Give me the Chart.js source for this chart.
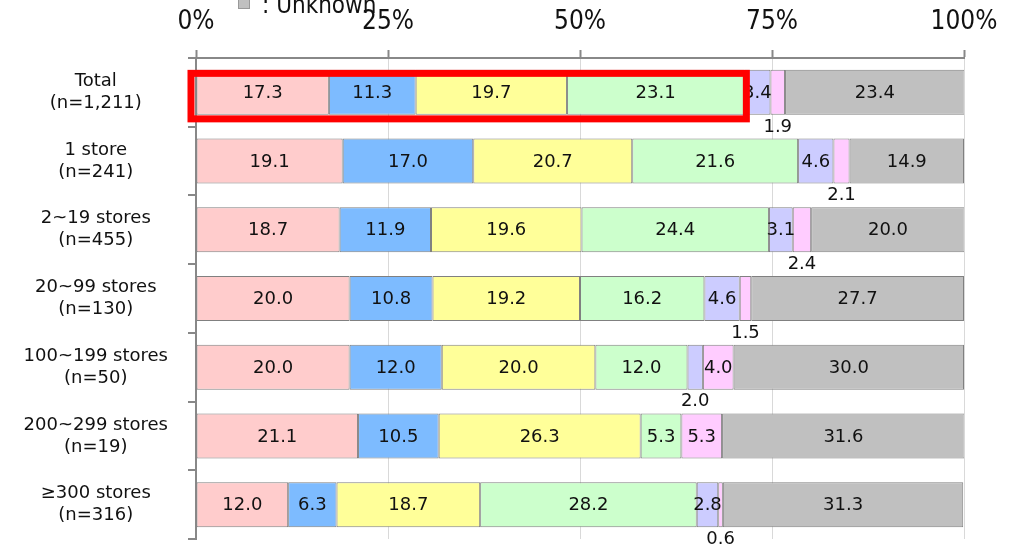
<!DOCTYPE html>
<html>
<head>
<meta charset="utf-8">
<title>Store count breakdown</title>
<script src="https://cdn.jsdelivr.net/npm/chart.js@4/dist/chart.umd.min.js"></script>
<style>
  body { margin: 0; background: #fff; }
  #wrap { position: relative; width: 1022px; height: 544px; overflow: hidden; }
  #chart { position: absolute; left: 0; top: 0; }
  .legend-bit { position: absolute; font: 24px "DejaVu Sans Condensed", "DejaVu Sans", sans-serif; color: #111; line-height: 24px; white-space: nowrap; }
  .legend-sw { position: absolute; left: 238px; top: -3px; width: 10px; height: 10px; background: #c0c0c0; border: 1px solid #999; }
</style>
</head>
<body>
<div id="wrap">
  <canvas id="chart" width="1022" height="544"></canvas>
  <div class="legend-sw"></div>
  <div class="legend-bit" style="left:262px; top:-7px;">: Unknown</div>
</div>
<script>
// rows (top to bottom)
const categories = [
  ["Total", "(n=1,211)"],
  ["1 store", "(n=241)"],
  ["2~19 stores", "(n=455)"],
  ["20~99 stores", "(n=130)"],
  ["100~199 stores", "(n=50)"],
  ["200~299 stores", "(n=19)"],
  ["≥300 stores", "(n=316)"]
];

// series, left to right (only "Unknown" is readable in the cropped legend)
const seriesNames = ["Group 1", "Group 2", "Group 3", "Group 4", "Group 5", "Group 6", "Unknown"];
const group1 = [17.3, 19.1, 18.7, 20.0, 20.0, 21.1, 12.0];
const group2 = [11.3, 17.0, 11.9, 10.8, 12.0, 10.5, 6.3];
const group3 = [19.7, 20.7, 19.6, 19.2, 20.0, 26.3, 18.7];
const group4 = [23.1, 21.6, 24.4, 16.2, 12.0, 5.3, 28.2];
const group5 = [3.4, 4.6, 3.1, 4.6, 2.0, 0, 2.8];
const group6 = [1.9, 2.1, 2.4, 1.5, 4.0, 5.3, 0.6];
const unknown = [23.4, 14.9, 20.0, 27.7, 30.0, 31.6, 31.3];

const xTicks = [0, 25, 50, 75, 100];
const colors = ["#ffcccc", "#7dbbff", "#ffff99", "#ccffcc", "#ccccff", "#ffccff", "#c0c0c0"];

// the red box goes round the first row, first four segments
const highlightRow = 0;
const highlightSeries = 4;

const allSeries = [group1, group2, group3, group4, group5, group6, unknown];

// value labels: inside the segment, or just under the bar when it is too thin
const segmentLabels = {
  id: "segmentLabels",
  afterDatasetsDraw(chart) {
    const ctx = chart.ctx;
    ctx.save();
    ctx.font = '18px "DejaVu Sans", sans-serif';
    ctx.fillStyle = "#111";
    ctx.textAlign = "center";
    ctx.textBaseline = "middle";
    chart.data.datasets.forEach((ds, di) => {
      chart.getDatasetMeta(di).data.forEach((bar, i) => {
        const v = ds.data[i];
        if (!v) return;
        const p = bar.getProps(["x", "y", "base", "height"], true);
        const cx = (p.x + p.base) / 2;
        if (v >= 2.5) ctx.fillText(v.toFixed(1), cx, p.y + 1);
        else ctx.fillText(v.toFixed(1), cx, p.y + p.height / 2 + 12);
      });
    });
    ctx.restore();
  }
};

const highlightBox = {
  id: "highlightBox",
  afterDraw(chart) {
    const ctx = chart.ctx;
    const first = chart.getDatasetMeta(0).data[highlightRow].getProps(["y", "base", "height"], true);
    const last = chart.getDatasetMeta(highlightSeries - 1).data[highlightRow].getProps(["x"], true);
    const top = first.y - first.height / 2 + 3.5;
    const bottom = first.y + first.height / 2 + 4;
    const left = first.base - 5.5;
    const right = last.x + 2;
    ctx.save();
    ctx.strokeStyle = "#ff0000";
    ctx.lineWidth = 7;
    ctx.strokeRect(left, top, right - left, bottom - top);
    ctx.restore();
  }
};

const datasets = allSeries.map((d, i) => ({
  label: seriesNames[i],
  data: d,
  backgroundColor: colors[i],
  borderColor: "#808080",
  borderWidth: 1,
  borderSkipped: false,
  categoryPercentage: 1,
  barPercentage: 0.655
}));

new Chart(document.getElementById("chart"), {
  type: "bar",
  data: { labels: categories, datasets },
  options: {
    indexAxis: "y",
    responsive: false,
    animation: false,
    layout: { padding: { left: 0, right: 58, top: 0, bottom: 5 } },
    plugins: { legend: { display: false }, tooltip: { enabled: false } },
    scales: {
      x: {
        position: "top",
        stacked: true,
        min: 0,
        max: 100,
        afterBuildTicks(s) { s.ticks = xTicks.map(v => ({ value: v })); },
        afterFit(s) { s.height = 58; },
        ticks: {
          callback: v => v + "%",
          color: "#111",
          padding: 12,
          font: { family: '"DejaVu Sans Condensed", "DejaVu Sans", sans-serif', size: 26 }
        },
        grid: { color: "#d9d9d9", lineWidth: 1, tickColor: "#888", tickLength: 8, tickWidth: 2 },
        border: { color: "#888", width: 2 }
      },
      y: {
        stacked: true,
        afterFit(s) {
          s.width = 196;
          s.paddingTop = 0;
          s.paddingBottom = 0;
        },
        ticks: {
          color: "#111",
          crossAlign: "center",
          padding: 20,
          font: { family: '"DejaVu Sans", sans-serif', size: 18, lineHeight: 1.22 }
        },
        grid: { offset: true, drawOnChartArea: false, color: "#888", lineWidth: 2, tickLength: 8 },
        border: { color: "#888", width: 2 }
      }
    }
  },
  plugins: [segmentLabels, highlightBox]
});
</script>
</body>
</html>
